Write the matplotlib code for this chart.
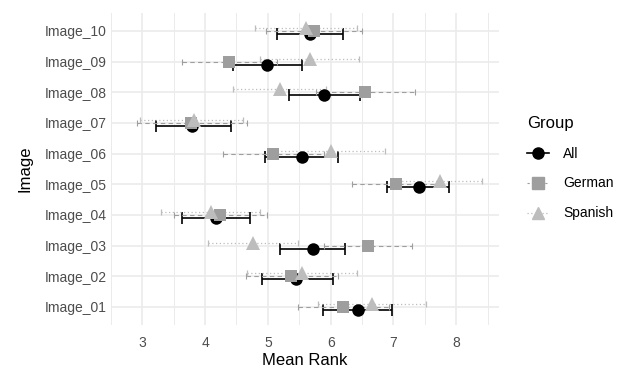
import numpy as np
import matplotlib
matplotlib.use("Agg")
import matplotlib.pyplot as plt
from matplotlib.lines import Line2D

plt.rcParams['font.family'] = ['Liberation Sans', 'DejaVu Sans']

images = ["Image_01", "Image_02", "Image_03", "Image_04", "Image_05",
          "Image_06", "Image_07", "Image_08", "Image_09", "Image_10"]

# mean rank and interval (low, high) per group, Image_01 .. Image_10
all_mean = [6.43, 5.45, 5.72, 4.17, 7.40, 5.54, 3.79, 5.90, 4.99, 5.67]
all_lo = [5.88, 4.90, 5.20, 3.63, 6.90, 4.95, 3.22, 5.34, 4.45, 5.14]
all_hi = [6.98, 6.03, 6.23, 4.71, 7.88, 6.12, 4.41, 6.46, 5.55, 6.20]

ger_mean = [6.20, 5.37, 6.59, 4.23, 7.04, 5.08, 3.78, 6.55, 4.38, 5.73]
ger_lo = [5.48, 4.65, 5.90, 3.50, 6.34, 4.28, 2.92, 5.76, 3.64, 4.97]
ger_hi = [6.93, 6.11, 7.29, 4.99, 7.74, 5.90, 4.67, 7.34, 5.15, 6.50]

spa_mean = [6.66, 5.54, 4.76, 4.09, 7.74, 6.01, 3.82, 5.19, 5.67, 5.60]
spa_lo = [5.80, 4.66, 4.05, 3.30, 7.07, 5.15, 2.96, 4.45, 4.88, 4.79]
spa_hi = [7.52, 6.42, 5.48, 4.88, 8.41, 6.86, 4.61, 5.93, 6.45, 6.42]

groups = [
    # name, means, lo, hi, colour, marker, size, linestyle, offset, lw, cap
    ("All", all_mean, all_lo, all_hi, "black", "o", 9, "-", -0.1, 1.2, 4.5),
    ("German", ger_mean, ger_lo, ger_hi, "#9e9e9e", "s", 9, (0, (4, 3)), 0.0, 0.8, 2),
    ("Spanish", spa_mean, spa_lo, spa_hi, "#bdbdbd", "^", 10, (0, (1, 2)), 0.1, 0.9, 2),
]

fig = plt.figure(figsize=(6.3, 3.68), dpi=100)
ax = fig.add_axes([0.176, 0.116, 0.616, 0.85])

ypos = np.arange(1, len(images) + 1)

for name, m, lo, hi, col, mk, ms, ls, off, lw, cap in groups:
    m = np.array(m)
    err = [m - np.array(lo), np.array(hi) - m]
    eb = ax.errorbar(m, ypos + off, xerr=err, fmt="none", ecolor=col,
                     elinewidth=lw, capsize=cap, capthick=lw, zorder=2)
    eb[2][0].set_linestyle(ls)
    ax.plot(m, ypos + off, linestyle="none", marker=mk, markersize=ms,
            color=col, markeredgewidth=0, zorder=3)

ax.set_xlim(2.65, 8.68)
ax.set_ylim(0.4, 10.6)
ax.set_xticks([3, 4, 5, 6, 7, 8])
ax.set_xticks(np.arange(2.5, 9.0, 1.0), minor=True)
ax.set_yticks(ypos)
ax.set_yticklabels(images)
ax.grid(which="major", color="#ebebeb", linewidth=1.2)
ax.grid(which="minor", axis="x", color="#ebebeb", linewidth=0.7)
ax.set_axisbelow(True)
for s in ax.spines.values():
    s.set_visible(False)
ax.tick_params(which="both", length=0, labelsize=10, labelcolor="#4d4d4d")
ax.tick_params(axis="x", pad=8)
ax.tick_params(axis="y", pad=3)

ax.set_xlabel("Mean Rank", fontsize=12, labelpad=2)
ax.set_ylabel("Image", fontsize=12, labelpad=9)

handles = [
    Line2D([], [], color="black", marker="o", markersize=8, linestyle="-", linewidth=1.2),
    Line2D([], [], color="#9e9e9e", marker="s", markersize=8, linestyle=(0, (2, 2)), linewidth=0.8),
    Line2D([], [], color="#bdbdbd", marker="^", markersize=9, linestyle=(0, (1, 2)), linewidth=0.9),
]
leg = fig.legend(handles, ["All", "German", "Spanish"], title="Group",
                 loc="upper left", bbox_to_anchor=(0.817, 0.72), frameon=False,
                 fontsize=10, title_fontsize=12, handlelength=1.6,
                 labelspacing=1.15, handletextpad=1.0, alignment="left")

fig.savefig("out.png", dpi=100)
